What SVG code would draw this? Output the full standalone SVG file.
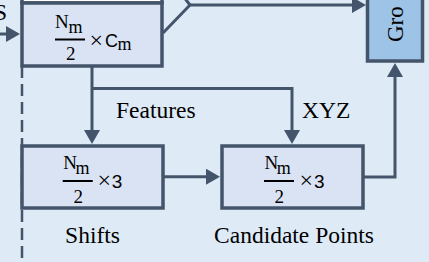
<svg xmlns="http://www.w3.org/2000/svg" width="429" height="262" viewBox="0 0 429 262">
<style>
.box{fill:#dae3f3;stroke:#44546a;stroke-width:3.5}
.conn{fill:none;stroke:#44546a;stroke-width:3}
.bar{fill:#000}
</style>
<defs>
<marker id="ah" viewBox="0 0 14 16" refX="8" refY="8" markerWidth="14" markerHeight="16" markerUnits="userSpaceOnUse" orient="auto">
<path d="M0,0 L14,8 L0,16 Z" fill="#44546a"/>
</marker>
</defs>
<rect x="0" y="0" width="429" height="262" fill="#deebf7"/>
<line x1="22" y1="66" x2="22" y2="262" stroke="#44546a" stroke-width="2.5" stroke-dasharray="12 6"/>
<g id="connectors">
<path class="conn" d="M0,34 H14" marker-end="url(#ah)"/>
<path class="conn" d="M163,33 L190,5 L183,-4"/>
<path class="conn" d="M190,5 H360" marker-end="url(#ah)"/>
<path class="conn" d="M92,66 V138" marker-end="url(#ah)"/>
<path class="conn" d="M92,88.5 H292 V138" marker-end="url(#ah)"/>
<path class="conn" d="M163,176.7 H214" marker-end="url(#ah)"/>
<path class="conn" d="M363,177 H395 V69" marker-end="url(#ah)"/>
</g>
<g id="upper">
<rect x="22" y="-30" width="140" height="33" fill="#ffffff" stroke="#44546a" stroke-width="3.5"/>
</g>
<g id="features-box" font-family="'Liberation Serif','DejaVu Serif',serif" fill="#000">
<rect class="box" x="22" y="3" width="140" height="63"/>
<text x="55" y="28.3" font-size="19">N</text>
<text x="68.5" y="33.3" font-size="18">m</text>
<rect class="bar" x="55" y="38.5" width="30" height="2"/>
<text x="70.8" y="60" font-size="19" text-anchor="middle">2</text>
<text x="89.5" y="48.4" font-size="24">×</text>
<text x="105" y="46.7" font-size="18" font-family="'Liberation Sans','DejaVu Sans',sans-serif">C</text>
<text x="117.5" y="50" font-size="18">m</text>
</g>
<g id="grouping" font-family="'Liberation Serif','DejaVu Serif',serif" fill="#000">
<rect x="367.5" y="-20" width="55" height="81" fill="#9dc3e6" stroke="#44546a" stroke-width="3.5"/>
<text font-size="23" transform="translate(402.5,42) rotate(-90)">Gro</text>
</g>
<g id="shifts" font-family="'Liberation Serif','DejaVu Serif',serif" fill="#000">
<rect class="box" x="22" y="146" width="141" height="62"/>
<text x="63.3" y="169" font-size="19">N</text>
<text x="75.5" y="174" font-size="18">m</text>
<rect class="bar" x="62.7" y="180" width="30" height="2"/>
<text x="78.3" y="203" font-size="19" text-anchor="middle">2</text>
<text x="97.5" y="188.4" font-size="24">×</text>
<text x="111.7" y="188" font-size="19" font-family="'Liberation Sans','DejaVu Sans',sans-serif">3</text>
</g>
<g id="candidates" font-family="'Liberation Serif','DejaVu Serif',serif" fill="#000">
<rect class="box" x="222" y="146" width="141" height="62"/>
<text x="264.5" y="169" font-size="19">N</text>
<text x="276.7" y="174" font-size="18">m</text>
<rect class="bar" x="264" y="180" width="30" height="2"/>
<text x="279.3" y="203" font-size="19" text-anchor="middle">2</text>
<text x="299.5" y="188.4" font-size="24">×</text>
<text x="314" y="188" font-size="19" font-family="'Liberation Sans','DejaVu Sans',sans-serif">3</text>
</g>
<g id="labels" font-family="'Liberation Serif','DejaVu Serif',serif" font-size="23.5" fill="#000">
<text x="7" y="20" text-anchor="end">S</text>
<text x="116" y="118">Features</text>
<text x="302" y="118">XYZ</text>
<text x="92.5" y="243" text-anchor="middle">Shifts</text>
<text x="294" y="243" text-anchor="middle">Candidate Points</text>
</g>
</svg>
